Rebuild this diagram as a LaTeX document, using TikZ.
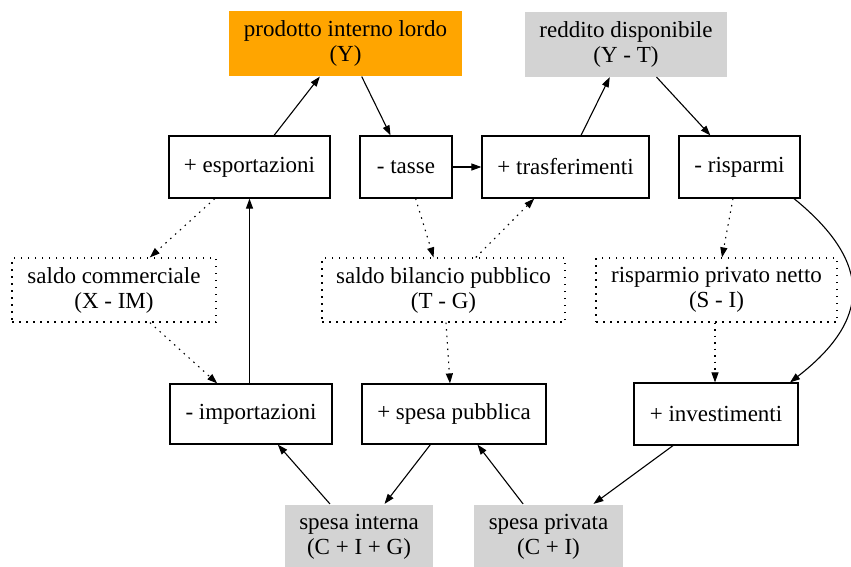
\documentclass[tikz,border=0pt]{standalone}
\usepackage{fontspec}
\setmainfont{Liberation Serif}
\usetikzlibrary{arrows.meta}
\definecolor{pilfill}{HTML}{FFA500}
\definecolor{greyfill}{HTML}{D3D3D3}
\tikzset{
  box/.style={draw=black, line width=1.2pt, minimum height=62pt, inner sep=0pt, align=center, font=\fontsize{23}{25}\selectfont},
  tot/.style={box, draw=none, minimum height=65pt},
  dotbox/.style={box, dash pattern=on 1.5pt off 5.5pt, minimum height=64pt},
  link/.style={draw=black, line width=1.1pt, -{Triangle[length=10pt,width=7pt]}},
  dotlink/.style={link, dash pattern=on 1.5pt off 5pt},
}
\begin{document}
\begin{tikzpicture}[x=1pt,y=-1pt]
  \useasboundingbox (0,0) rectangle (851,566);

  \node[tot, fill=pilfill, minimum width=233pt] (pil) at (345.5,43.5) {prodotto interno lordo\\(Y)};
  \node[tot, fill=greyfill, minimum width=202pt] (reddito) at (626,44) {reddito disponibile\\(Y - T)};

  \node[box, minimum width=161pt] (export) at (249.5,167) {+ esportazioni};
  \node[box, minimum width=92pt] (tasse) at (406,167) {- tasse};
  \node[box, minimum width=167pt] (trasf) at (565.5,167) {+ trasferimenti};
  \node[box, minimum width=121pt] (rispar) at (739.5,167) {- risparmi};

  \node[dotbox, minimum width=204pt] (saldocomm) at (114,290) {saldo commerciale\\(X - IM)};
  \node[dotbox, minimum width=243pt] (saldobil) at (443.5,290) {saldo bilancio pubblico\\(T - G)};
  \node[dotbox, minimum width=241pt] (risppriv) at (716.5,290) {risparmio privato netto\\(S - I)};

  \node[box, minimum width=162pt, minimum height=60pt] (import) at (251,414) {- importazioni};
  \node[box, minimum width=184pt, minimum height=60pt] (spesapub) at (454,414) {+ spesa pubblica};
  \node[box, minimum width=164pt] (invest) at (716,414) {+ investimenti};

  \node[tot, fill=greyfill, minimum width=148pt] (spesaint) at (359,537) {spesa interna\\(C + I + G)};
  \node[tot, fill=greyfill, minimum width=149pt] (spesapriv) at (548.5,537) {spesa privata\\(C + I)};

  \draw[link] (export) -- (pil);
  \draw[link] (pil) -- (tasse);
  \draw[link] (tasse) -- (trasf);
  \draw[link] (trasf) -- (reddito);
  \draw[link] (reddito) -- (rispar);

  \draw[dotlink] (export) -- (saldocomm);
  \draw[dotlink] (saldocomm) -- (import);
  \draw[link] (import.north -| export) -- (export);
  \draw[dotlink] (tasse) -- (saldobil);
  \draw[dotlink] (saldobil) -- (trasf);
  \draw[dotlink] (saldobil.south -| 446,0) -- (spesapub.north -| 450,0);
  \draw[dotlink] (rispar.south -| 733,0) -- (risppriv.north -| 722,0);
  \draw[dotlink] (risppriv.south -| 715,0) -- (invest.north -| 715,0);
  \draw[link] (rispar.south -| 794,0) .. controls +(80,65) and +(80,-62) .. (invest.north -| 790,0);

  \draw[link] (spesaint) -- (import);
  \draw[link] (spesapub) -- (spesaint);
  \draw[link] (spesapriv) -- (spesapub);
  \draw[link] (invest) -- (spesapriv);
\end{tikzpicture}
\end{document}
